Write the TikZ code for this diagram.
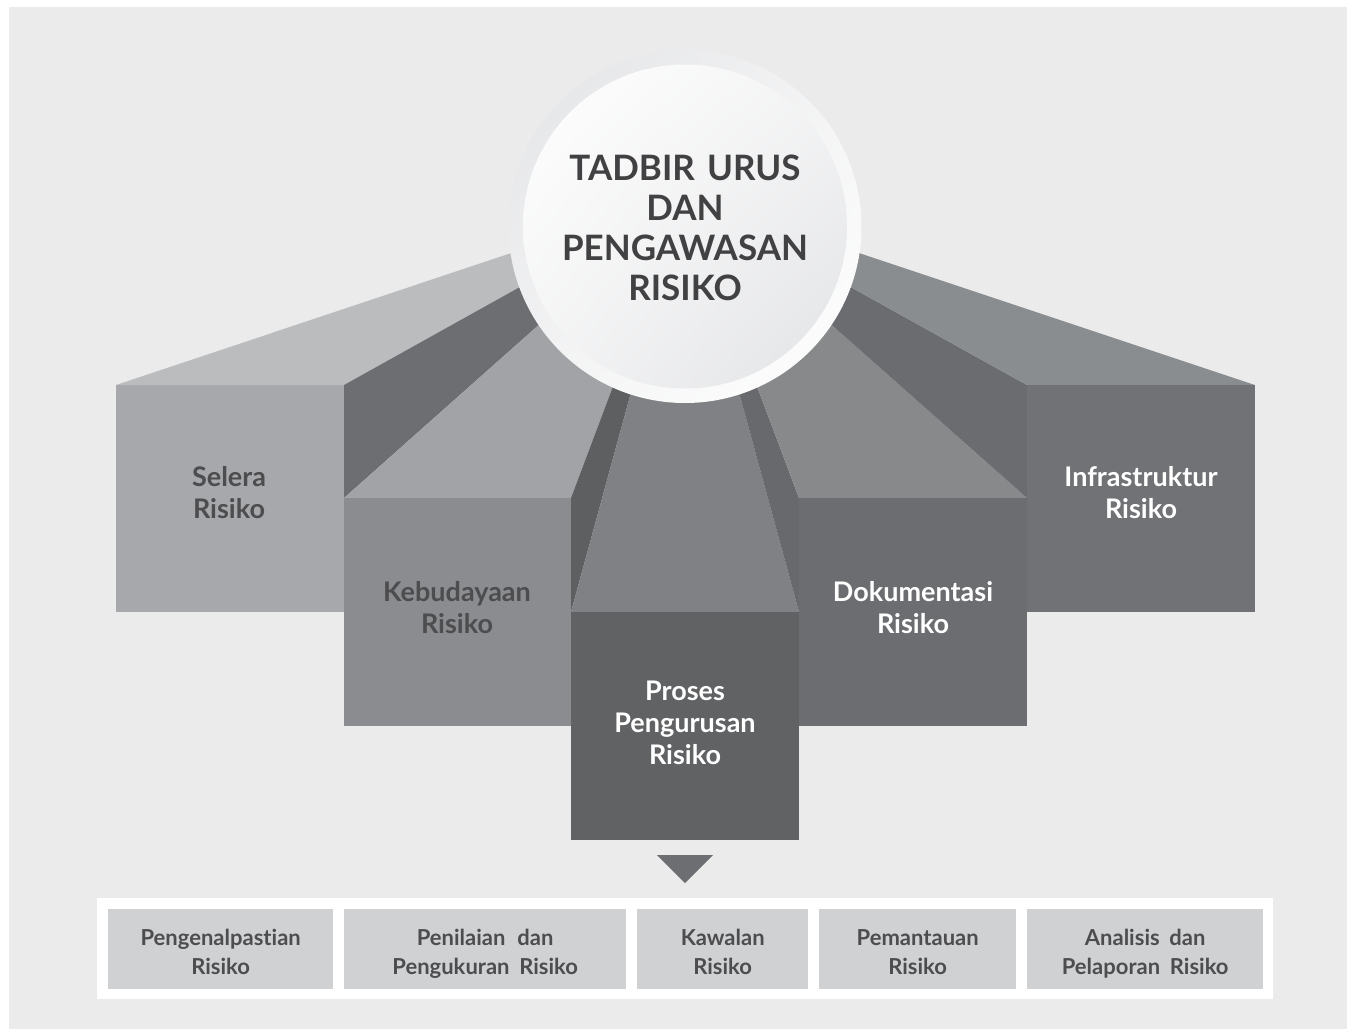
\documentclass[tikz,border=0pt]{standalone}
\usepackage{fontspec}
\setmainfont{Lato}[Ligatures=NoCommon]
\newfontfamily\latobold{Lato Bold}[Ligatures=NoCommon]
\usetikzlibrary{shadings}
\definecolor{bgc}{HTML}{EBEBEB}
\definecolor{selfront}{HTML}{A7A8AB}
\definecolor{seltop}{HTML}{BBBCBE}
\definecolor{darkside}{HTML}{6D6E71}
\definecolor{kebfront}{HTML}{8A8C8F}
\definecolor{kebtop}{HTML}{A2A3A6}
\definecolor{kebside}{HTML}{5E5F61}
\definecolor{protop}{HTML}{808184}
\definecolor{profront}{HTML}{616264}
\definecolor{dokside}{HTML}{68696C}
\definecolor{doktop}{HTML}{88898B}
\definecolor{dokfront}{HTML}{6C6D70}
\definecolor{infside}{HTML}{6B6C70}
\definecolor{inftop}{HTML}{8A8D90}
\definecolor{inffront}{HTML}{717276}
\definecolor{txtdark}{HTML}{414042}
\definecolor{lbldark}{HTML}{4D4D4F}
\definecolor{subbox}{HTML}{D0D1D3}
\definecolor{ringgray}{HTML}{E2E3E5}
\tikzset{
  boxlabel/.style={font=\latobold\fontsize{27}{32}\selectfont, align=center, inner sep=0},
  sublabel/.style={font=\latobold\fontsize{22}{29}\selectfont, text=lbldark, align=center, inner sep=0},
  subbx/.style={fill=subbox, draw=none, inner sep=0, anchor=north west},
}
\begin{document}
\begin{tikzpicture}[x=1pt,y=-1pt]
\useasboundingbox (0,0) rectangle (1347,1029);
\fill[white] (0,0) rectangle (1347,1029);
\fill[bgc] (9,7) rectangle (1347,1029);
\coordinate (vp) at (685,195);
% top and side faces (fan toward vanishing point)
\fill[seltop] (116,385) -- (344,385) -- (vp) -- cycle;
\fill[darkside] (344,385) -- (344,498) -- (vp) -- cycle;
\fill[kebtop] (344,498) -- (571,498) -- (vp) -- cycle;
\fill[kebside] (571,498) -- (571,612) -- (vp) -- cycle;
\fill[protop] (571,612) -- (799,612) -- (vp) -- cycle;
\fill[dokside] (799,612) -- (799,498) -- (vp) -- cycle;
\fill[doktop] (799,498) -- (1027,498) -- (vp) -- cycle;
\fill[infside] (1027,498) -- (1027,385) -- (vp) -- cycle;
\fill[inftop] (1027,385) -- (1255,385) -- (vp) -- cycle;
% front faces
\fill[selfront] (116,385) rectangle (344,612);
\fill[kebfront] (344,498) rectangle (571,726);
\fill[profront] (571,612) rectangle (799,840);
\fill[dokfront] (799,498) rectangle (1027,726);
\fill[inffront] (1027,385) rectangle (1255,612);
% circle
\shade[upper left=ringgray, lower right=white, upper right=ringgray!40, lower left=ringgray!40] (685,226.5) circle (176.5);
\shade[upper left=white, lower right=ringgray, upper right=ringgray!40!white, lower left=ringgray!40!white] (685,226.5) circle (162);
\node[font=\latobold\fontsize{35}{40}\selectfont, text=txtdark, align=center, inner sep=0] (title) at (685,228) {TADBIR\hspace{0.35em}URUS\\DAN\\PENGAWASAN\\RISIKO};
% labels
\node[boxlabel, text=lbldark] (selera) at (229,493) {Selera\\Risiko};
\node[boxlabel, text=lbldark] (keb) at (457,608) {Kebudayaan\\Risiko};
\node[boxlabel, text=white] (proses) at (685,723) {Proses\\Pengurusan\\Risiko};
\node[boxlabel, text=white] (dok) at (913,608) {Dokumentasi\\Risiko};
\node[boxlabel, text=white] (infra) at (1141,493) {Infrastruktur\\Risiko};
% arrow
\coordinate (ta) at (657,855);
\coordinate (tb) at (713,855);
\coordinate (tc) at (685,883);
\fill[darkside] (ta) -- (tb) -- (tc) -- cycle;
% bottom band
\fill[white] (97,898) rectangle (1273,999);
\node[subbx, minimum width=225, minimum height=80] (b1) at (108,909) {};
\node[subbx, minimum width=282, minimum height=80] (b2) at (344,909) {};
\node[subbx, minimum width=171, minimum height=80] (b3) at (637,909) {};
\node[subbx, minimum width=197, minimum height=80] (b4) at (819,909) {};
\node[subbx, minimum width=236, minimum height=80] (b5) at (1027,909) {};
\node[sublabel] at ([yshift=-5.2]b1.center) {\strut Pengenalpastian\\\strut Risiko};
\node[sublabel] at ([yshift=-5.2]b2.center) {\strut Penilaian\hspace{0.3em} dan\\\strut Pengukuran\hspace{0.2em} Risiko};
\node[sublabel] at ([yshift=-5.2]b3.center) {\strut Kawalan\\\strut Risiko};
\node[sublabel] at ([yshift=-5.2]b4.center) {\strut Pemantauan\\\strut Risiko};
\node[sublabel] at ([yshift=-5.2]b5.center) {\strut Analisis\hspace{0.2em} dan\\\strut Pelaporan\hspace{0.2em} Risiko};
\end{tikzpicture}
\end{document}
